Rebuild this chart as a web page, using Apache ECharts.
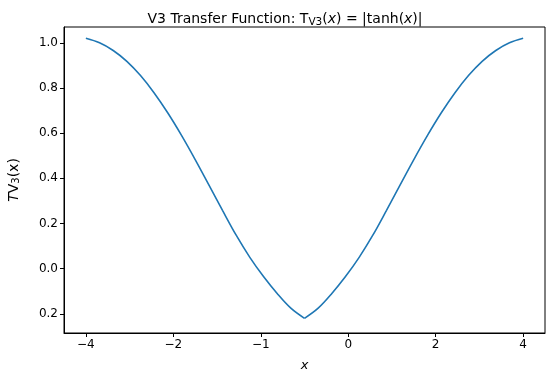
<!DOCTYPE html>
<html>
<head>
<meta charset="utf-8">
<script src="https://cdn.jsdelivr.net/npm/echarts@6/dist/echarts.min.js"></script>
<style>html,body{margin:0;padding:0;background:#fff}#c{width:550px;height:378px}</style>
</head>
<body>
<div id="c"></div>
<script>
const xValues = [-4,-3.75,-3.5,-3.25,-3,-2.75,-2.5,-2.25,-2,-1.75,-1.5,-1.25,-1,-0.75,-0.5,-0.25,0,0.25,0.5,0.75,1,1.25,1.5,1.75,2,2.25,2.5,2.75,3,3.25,3.5,3.75,4];
const yValues = [1.02,1.0,0.966,0.918,0.855,0.778,0.689,0.59,0.483,0.371,0.258,0.148,0.05,-0.035,-0.11,-0.175,-0.22,-0.175,-0.11,-0.035,0.05,0.148,0.258,0.371,0.483,0.59,0.689,0.778,0.855,0.918,0.966,1.0,1.02];
const xTickValues = [-4,-2.4,-0.8,0.8,2.4,4];
const xTickLabels = ["\u22124","\u22122","\u22121","0","2","4"];
const yTickValues = [-0.2,0,0.2,0.4,0.6,0.8,1.0];
const yTickLabels = ["0.2","0.0","0.2","0.4","0.6","0.8","1.0"];

const font = "DejaVu Sans";
const pts = xValues.map((x,i)=>[x,yValues[i]]);
const leftHalf = pts.filter(p=>p[0]<=0);
const rightHalf = pts.filter(p=>p[0]>=0);
const chart = echarts.init(document.getElementById('c'), null, {renderer:'canvas'});
const lineStyleAxis = {color:'#000', width:1};
const lineSeries = d => ({
  type:'line', data:d, showSymbol:false, smooth:0.35,
  lineStyle:{color:'#1f77b4', width:1.6}, itemStyle:{color:'#1f77b4'}
});
chart.setOption({
  animation:false,
  backgroundColor:'#fff',
  textStyle:{fontFamily:font},
  title:{
    text:'V3 Transfer Function: T{sub|V3}({it|x}) = |tanh({it|x})|',
    left:280, top:5, textAlign:'center',
    textStyle:{fontFamily:font, fontSize:14, fontWeight:'normal', color:'#000',
      rich:{
        sub:{fontFamily:font, fontSize:10.5, color:'#000', verticalAlign:'bottom', padding:[7,0,0,0]},
        it:{fontFamily:font, fontSize:14, fontStyle:'italic', color:'#000'}
      }}
  },
  grid:{left:64, top:27, right:5, bottom:45, outerBoundsMode:'none', show:true, borderColor:'#000', borderWidth:1, backgroundColor:'transparent'},
  xAxis:{
    type:'value', min:-4.4, max:4.4,
    name:'{it|x}', nameLocation:'middle', nameGap:26,
    nameTextStyle:{rich:{it:{fontFamily:font, fontSize:13, fontStyle:'italic', color:'#000'}}},
    axisLine:{show:true, onZero:false, lineStyle:lineStyleAxis},
    axisTick:{show:true, inside:false, length:4, lineStyle:lineStyleAxis, customValues:xTickValues},
    axisLabel:{fontFamily:font, fontSize:12, color:'#000', margin:6, customValues:xTickValues,
      formatter:function(v){const i=xTickValues.findIndex(t=>Math.abs(t-v)<1e-6);return i>=0?xTickLabels[i]:'';}},
    splitLine:{show:false}
  },
  yAxis:{
    type:'value', min:-0.285, max:1.07,
    name:'{it|T}V{s|3}(x)', nameLocation:'middle', nameGap:43, nameRotate:90,
    nameTextStyle:{fontFamily:font, fontSize:14, color:'#000',
      rich:{it:{fontFamily:font, fontSize:14, fontStyle:'italic', color:'#000'}, s:{fontFamily:font, fontSize:10, color:'#000', verticalAlign:'bottom'}}},
    axisLine:{show:true, onZero:false, lineStyle:lineStyleAxis},
    axisTick:{show:true, inside:false, length:4, lineStyle:lineStyleAxis, customValues:yTickValues},
    axisLabel:{fontFamily:font, fontSize:12, color:'#000', margin:6, customValues:yTickValues,
      formatter:function(v){const i=yTickValues.findIndex(t=>Math.abs(t-v)<1e-6);return i>=0?yTickLabels[i]:'';}},
    splitLine:{show:false}
  },
  series:[lineSeries(leftHalf), lineSeries(rightHalf)]
});
</script>
</body>
</html>
